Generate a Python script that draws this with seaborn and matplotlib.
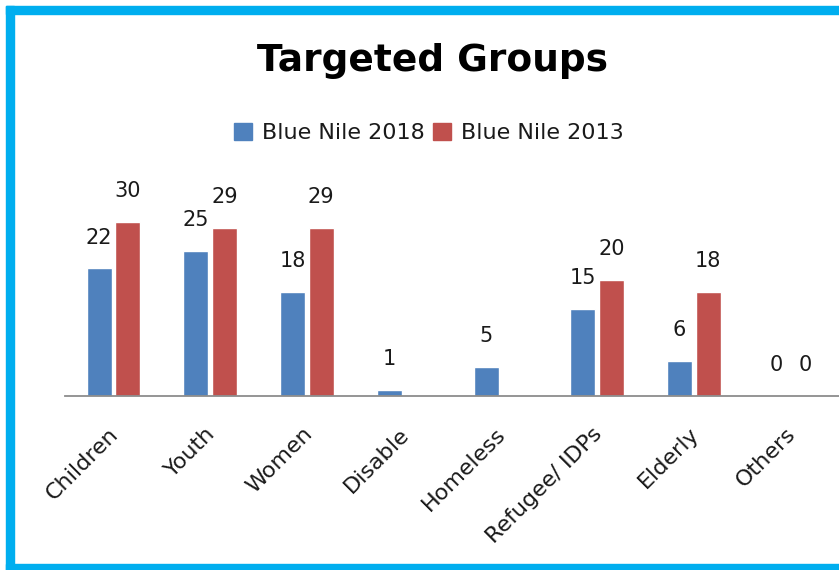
import numpy as np
import pandas as pd
import seaborn as sns
import matplotlib.pyplot as plt
import matplotlib.transforms as mtrans
from matplotlib.patches import Rectangle

categories = ['Children', 'Youth', 'Women', 'Disable', 'Homeless',
              'Refugee/ IDPs', 'Elderly', 'Others']
blue_nile_2018 = [22, 25, 18, 1, 5, 15, 6, 0]
blue_nile_2013 = [30, 29, 29, np.nan, np.nan, 20, 18, 0]
series_names = ['Blue Nile 2018', 'Blue Nile 2013']
colors = ['#4F81BD', '#C0504D']

df = pd.DataFrame({
    'group': categories * 2,
    'series': [series_names[0]] * len(categories) + [series_names[1]] * len(categories),
    'value': blue_nile_2018 + blue_nile_2013,
})

sns.set_style('white')
plt.rcParams['font.family'] = ['DejaVu Sans']

W, H = 839, 570
fig = plt.figure(figsize=(W / 100, H / 100), dpi=100)
# axes placed so baseline sits near y=396px, plot runs off the right edge
ax = fig.add_axes([65 / W, (H - 396) / H, 1 - 65 / W, 203 / H])

sns.barplot(data=df, x='group', y='value', hue='series', palette=colors,
            width=0.59, gap=0.12, ax=ax, legend=False, saturation=1)

ax.set_xlim(-0.5, 7.5)
ax.set_ylim(0, 35)
ax.set_xlabel('')
ax.set_ylabel('')
ax.set_yticks([])
for s in ['left', 'right', 'top']:
    ax.spines[s].set_visible(False)
ax.spines['bottom'].set_color('#8c8c8c')
ax.spines['bottom'].set_linewidth(1.3)
ax.tick_params(axis='x', length=0, pad=20)

offset = mtrans.ScaledTranslation(-5 / 100, 0, fig.dpi_scale_trans)
for lab in ax.get_xticklabels():
    lab.set_rotation(45)
    lab.set_ha('right')
    lab.set_rotation_mode('anchor')
    lab.set_fontsize(16)
    lab.set_color('#1a1a1a')
    lab.set_transform(lab.get_transform() + offset)

# value labels (missing values get no label)
for cont in ax.containers:
    labels = []
    for bar in cont:
        h = bar.get_height()
        labels.append('' if np.isnan(h) else f'{int(h)}')
    ax.bar_label(cont, labels=labels, padding=15, fontsize=15, color='#1a1a1a')

fig.text(432 / W, 1 - 61 / H, 'Targeted Groups', ha='center', va='center',
         fontsize=27, fontweight='bold', color='black')

handles = [Rectangle((0, 0), 1, 1, color=c) for c in colors]
fig.legend(handles, series_names, loc='center', bbox_to_anchor=(429 / W, 1 - 133 / H),
           ncol=2, frameon=False, fontsize=16, handlelength=0.8, handleheight=0.8,
           handletextpad=0.45, columnspacing=0.4, labelcolor='#1a1a1a')

# cyan frame (right side is cut off in the original)
cyan = '#00AEEF'
fig.patches.append(Rectangle((6 / W, 0), 8 / W, 1 - 6 / H, color=cyan, transform=fig.transFigure))
fig.patches.append(Rectangle((6 / W, 1 - 14 / H), 1, 8 / H, color=cyan, transform=fig.transFigure))
fig.patches.append(Rectangle((6 / W, 0), 1, 6 / H, color=cyan, transform=fig.transFigure))

fig.savefig('out.png', dpi=100)
